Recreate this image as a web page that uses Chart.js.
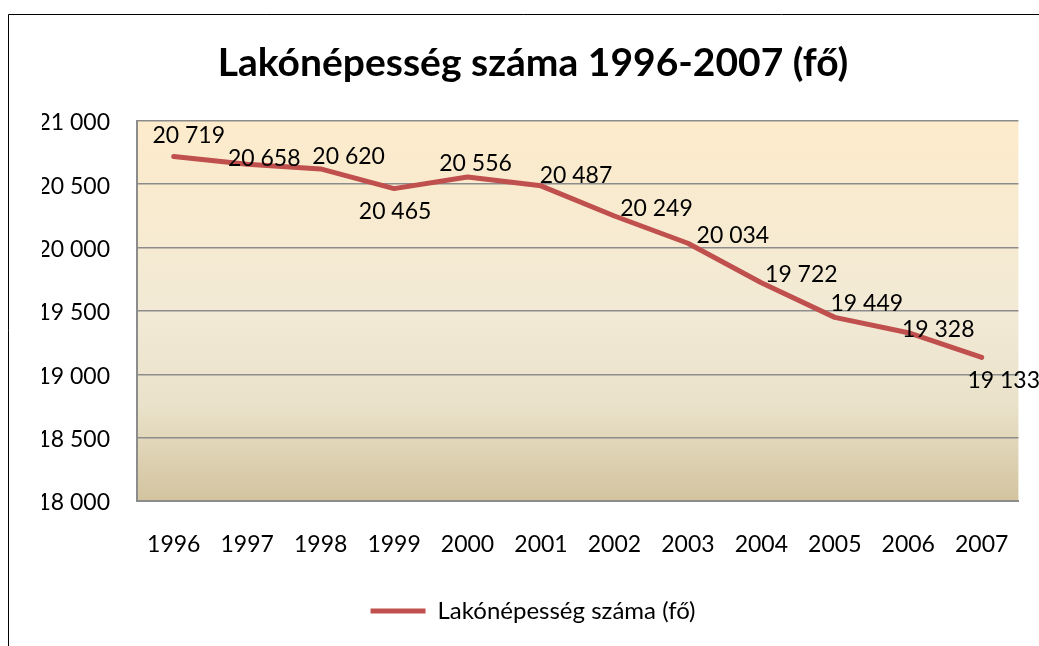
<!DOCTYPE html>
<html>
<head>
<meta charset="utf-8">
<script src="https://cdn.jsdelivr.net/npm/chart.js@4.4.0/dist/chart.umd.min.js"></script>
<style>
  html, body { margin: 0; padding: 0; background: #fff; }
  #wrap { position: relative; width: 1039px; height: 646px; }
</style>
</head>
<body>
<div id="wrap"><canvas id="c" width="1039" height="646"></canvas></div>
<script>
// ---- data ----
const years = ['1996','1997','1998','1999','2000','2001','2002','2003','2004','2005','2006','2007'];
const population = [20719, 20658, 20620, 20465, 20556, 20487, 20249, 20034, 19722, 19449, 19328, 19133];
const seriesName = 'Lakónépesség száma (fő)';
const chartTitle = 'Lakónépesség száma 1996-2007 (fő)';
const yMin = 18000, yMax = 21000, yStep = 500;
// label placement relative to each point (dx, dy in px)
const labelDx = [15, 17, 28, 1, 8, 35, 42, 45, 40, 32, 30, 22];
const labelDy = [-23, -8, -14, 21, -15, -12, -9, -10, -10, -16, -5, 21];

const FONT = 'Lato';
const fmt = v => String(v).replace(/\B(?=(\d{3})+(?!\d))/g, ' ');

const frame = {
  id: 'frame',
  beforeDraw(chart) {
    const ctx = chart.ctx;
    ctx.save();
    ctx.fillStyle = '#ffffff';
    ctx.fillRect(0, 0, chart.width, chart.height);
    const a = chart.chartArea;
    const g = ctx.createLinearGradient(0, a.top, 0, a.bottom);
    g.addColorStop(0, '#fdebcb');
    g.addColorStop(0.5, '#f2ead5');
    g.addColorStop(0.75, '#e9e1c9');
    g.addColorStop(1, '#d3c49f');
    ctx.fillStyle = g;
    ctx.fillRect(a.left, a.top, a.right - a.left, a.bottom - a.top);
    ctx.strokeStyle = '#000';
    ctx.lineWidth = 1;
    ctx.beginPath();
    ctx.moveTo(8.5, chart.height);
    ctx.lineTo(8.5, 14.5);
    ctx.lineTo(chart.width, 14.5);
    ctx.stroke();
    ctx.restore();
  }
};

const dataLabels = {
  id: 'dataLabels',
  afterDatasetsDraw(chart) {
    const ctx = chart.ctx;
    const meta = chart.getDatasetMeta(0);
    ctx.save();
    ctx.font = '23px ' + FONT;
    ctx.fillStyle = '#000';
    ctx.textAlign = 'center';
    ctx.textBaseline = 'middle';
    meta.data.forEach((pt, i) => {
      ctx.fillText(fmt(population[i]), pt.x + labelDx[i], pt.y + labelDy[i] + 2);
    });
    ctx.restore();
  }
};

new Chart(document.getElementById('c'), {
  type: 'line',
  data: {
    labels: years,
    datasets: [{
      label: seriesName,
      data: population,
      borderColor: '#c0504d',
      backgroundColor: '#c0504d',
      borderWidth: 5,
      borderCapStyle: 'round',
      borderJoinStyle: 'round',
      pointRadius: 0,
      pointHoverRadius: 0,
      tension: 0,
      fill: false
    }]
  },
  options: {
    responsive: false,
    animation: false,
    events: [],
    layout: { padding: { left: 42, right: 15, top: 0, bottom: 13 } },
    scales: {
      x: {
        offset: true,
        grid: { display: false, drawTicks: false },
        border: { display: true, color: '#8c8c8c', width: 2 },
        ticks: { color: '#000', font: { family: FONT, size: 23 }, padding: 30, maxRotation: 0, autoSkip: false },
        afterFit(s) { s.height = 88; }
      },
      y: {
        min: yMin, max: yMax,
        grid: { color: '#8c8c8c', lineWidth: 1.5, drawTicks: false },
        border: { display: true, color: '#8c8c8c', width: 2 },
        ticks: { stepSize: yStep, color: '#000', font: { family: FONT, size: 23 }, padding: 27, labelOffset: 2, callback: v => fmt(v) },
        afterFit(s) { s.width = 95; }
      }
    },
    plugins: {
      title: {
        display: true,
        text: chartTitle,
        color: '#000',
        font: { family: FONT, size: 39, weight: 'bold' },
        padding: { top: 40, bottom: 34 }
      },
      legend: {
        position: 'bottom',
        labels: {
          color: '#000',
          font: { family: FONT, size: 24 },
          usePointStyle: true,
          pointStyle: 'line',
          pointStyleWidth: 55,
          padding: 10
        }
      },
      tooltip: { enabled: false }
    }
  },
  plugins: [frame, dataLabels]
});
</script>
</body>
</html>
